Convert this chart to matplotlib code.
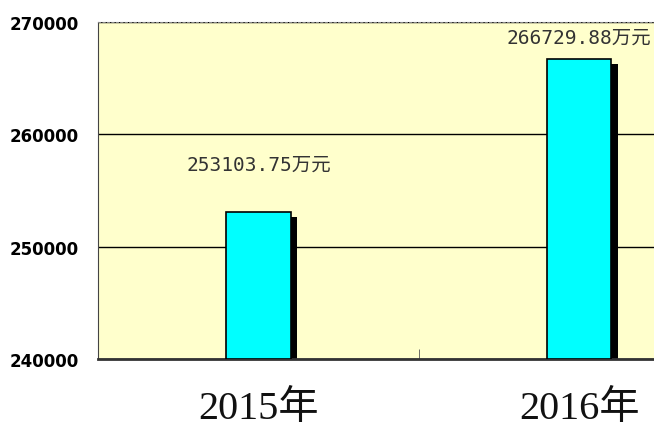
import matplotlib.pyplot as plt

years = ["2015年", "2016年"]
values = [253103.75, 266729.88]
value_labels = ["253103.75万元", "266729.88万元"]

fig = plt.figure(figsize=(6.54, 4.39), dpi=100)
ax = fig.add_axes([0.15, 0.18, 0.85, 0.7676])
ax.set_facecolor("#FFFFCC")

x = range(len(years))
w = 0.2
# shadow behind each bar
ax.bar([i + 0.02 for i in x], [v - 240000 - 450 for v in values], bottom=240000,
       width=w, color="black", zorder=2)
ax.bar(list(x), [v - 240000 for v in values], bottom=240000, width=w,
       color="#00FFFF", edgecolor="black", linewidth=1.2, zorder=3)

ax.set_ylim(240000, 270000)
ax.set_xlim(-0.5, 1.233)
ax.set_yticks([240000, 250000, 260000, 270000])
ax.yaxis.grid(True, color="black", linewidth=1)
ax.set_axisbelow(True)

ax.tick_params(axis="y", length=0, pad=14)
for t in ax.get_yticklabels():
    t.set_fontweight("bold")
    t.set_fontsize(12)
    t.set_family("DejaVu Sans")

ax.set_xticks(list(x))
ax.set_xticklabels(years, family=["Liberation Serif", "Noto Sans CJK SC"],
                   fontsize=29, color="#111111")
ax.tick_params(axis="x", length=0, pad=22)
ax.set_xticks([0.5], minor=True)
ax.tick_params(axis="x", which="minor", direction="in", length=7, color="#555555")

offsets = [4200, 1900]
for i, (v, lab) in enumerate(zip(values, value_labels)):
    ax.text(i, v + offsets[i], lab, ha="center", va="center", fontsize=14,
            color="#333333", family=["DejaVu Sans Mono", "Noto Sans CJK SC"])

ax.spines["right"].set_visible(False)
ax.spines["top"].set_linestyle((0, (2, 2)))
ax.spines["top"].set_color("#888888")
ax.spines["left"].set_color("#444444")
ax.spines["bottom"].set_linewidth(2)
ax.spines["bottom"].set_color("#333333")

fig.savefig("out.png", dpi=100)
